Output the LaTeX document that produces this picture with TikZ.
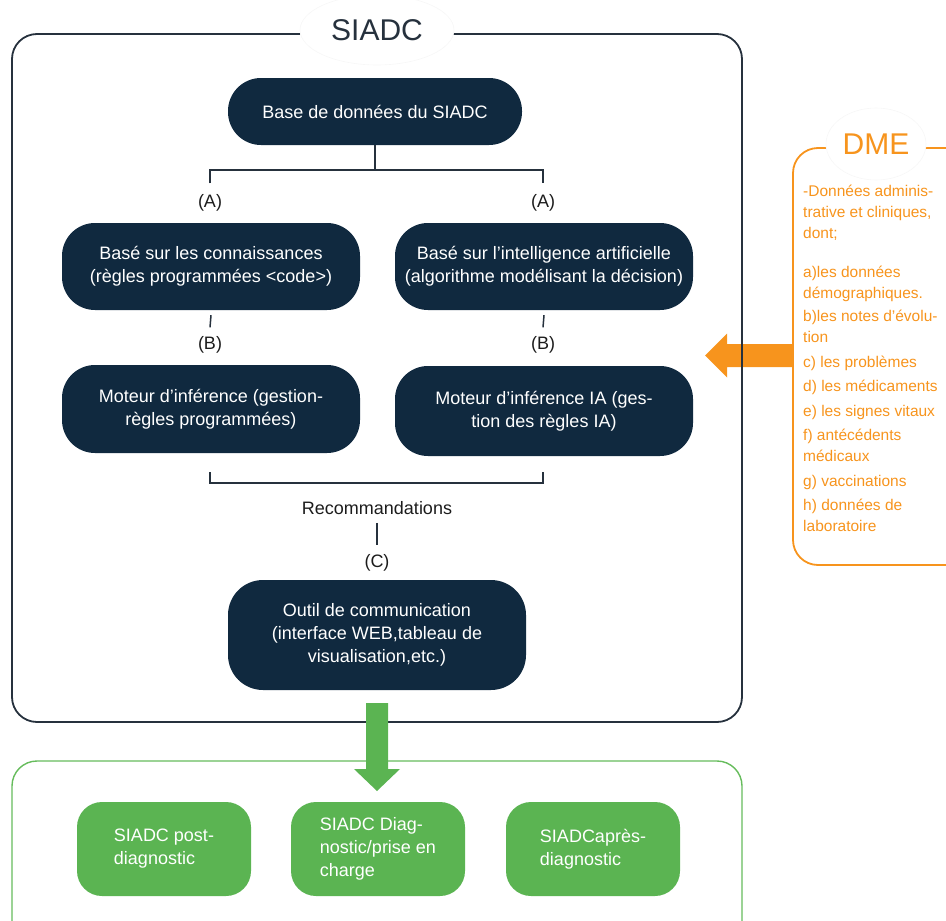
\documentclass[tikz,border=0pt]{standalone}
\usepackage{fontspec}
\setmainfont{Liberation Sans}
\usetikzlibrary{calc,shapes.geometric}

\definecolor{navy}{HTML}{10293F}
\definecolor{frame}{HTML}{26313D}
\definecolor{ink}{HTML}{1C1C1C}
\definecolor{leaf}{HTML}{5BB452}
\definecolor{leafline}{HTML}{66BC5C}
\definecolor{amber}{HTML}{F7941D}

\tikzset{
  darkbox/.style={fill=navy, draw=none, text=white, align=center,
    rounded corners=33pt, inner sep=0pt,
    font=\fontsize{18}{23}\selectfont},
  greenbox/.style={fill=leaf, draw=none, text=white, align=left,
    rounded corners=25pt, inner sep=0pt,
    minimum width=174pt, minimum height=94pt,
    font=\fontsize{18}{23}\selectfont},
  tag/.style={text=ink, font=\fontsize{18}{22}\selectfont},
  wire/.style={draw=frame, line width=1.5pt},
  halo/.style={ellipse, fill=white, draw=black!3, line width=0.6pt, inner sep=0pt},
}

\begin{document}
\begin{tikzpicture}[x=1pt,y=-1pt]
\useasboundingbox (0,0) rectangle (946,921);

% ---- orange input arrow (DME -> SIADC) ----
\coordinate (dmeout) at (792,355.5);
\coordinate (siadcin) at (705,355.5);
\fill[amber] (siadcin) -- ($(siadcin)+(22,-22)$) -- ($(siadcin)+(22,-11.5)$)
  -- ($(dmeout)+(0,-11.5)$) -- ($(dmeout)+(0,11.5)$)
  -- ($(siadcin)+(22,11.5)$) -- ($(siadcin)+(22,22)$) -- cycle;

% ---- SIADC frame ----
\draw[frame, line width=1.8pt, rounded corners=25pt]
  (300,34) -- (12,34) -- (12,722) -- (742,722) -- (742,34) -- (452,34);
\node[halo, minimum width=154pt, minimum height=70pt] (siadchalo) at (377,30) {};
\node[text=frame, font=\fontsize{30}{30}\selectfont] (siadc) at (377,30) {SIADC};

% ---- inner nodes ----
\node[darkbox, minimum width=294pt, minimum height=67pt] (db) at (375,111.5)
  {Base de données du SIADC};

\node[darkbox, minimum width=298pt, minimum height=87pt] (kb) at (211,266.5)
  {Basé sur les connaissances\\(règles programmées <code>)};
\node[darkbox, minimum width=298pt, minimum height=87pt] (ai) at (544,266.5)
  {Basé sur l’intelligence artificielle\\(algorithme modélisant la décision)};

\node[darkbox, minimum width=298pt, minimum height=88pt] (ie1) at (211,409)
  {Moteur d’inférence (gestion-\\règles programmées)};
\node[darkbox, minimum width=298pt, minimum height=90pt] (ie2) at (544,411)
  {Moteur d’inférence IA (ges-\\tion des règles IA)};

\node[darkbox, rounded corners=35pt, minimum width=298pt, minimum height=110pt] (comm) at (377,635)
  {Outil de communication\\(interface WEB,tableau de\\visualisation,etc.)};

% ---- labels ----
\node[tag, inner sep=0pt] (la1) at (210,203) {(A)};
\node[tag, inner sep=0pt] (la2) at (543,203) {(A)};
\node[tag, inner sep=0pt] (lb1) at (210,345) {(B)};
\node[tag, inner sep=0pt] (lb2) at (543,345) {(B)};
\node[tag, inner sep=0pt] (rec) at (377,508) {Recommandations};
\node[tag, inner sep=0pt] (lc) at (377,563) {(C)};

% ---- connectors ----
\coordinate (split) at (375,170);
\draw[wire] (db.south) -- (split);
\draw[wire] ($(la1.north)+(0,-11)$) |- (split) -| ($(la2.north)+(0,-11)$);

\draw[wire] ($(kb.south)+(0,5)$) -- ($(lb1.north)+(0,-9)$);
\draw[wire] ($(ai.south)+(0,5)$) -- ($(lb2.north)+(0,-9)$);

\coordinate (mergeL) at (210,472);
\coordinate (mergeR) at (543,472);
\coordinate (merge) at (377,483);
\draw[wire] (mergeL) |- (merge) -| (mergeR);

\draw[wire] ($(rec.south)+(0,8)$) -- ($(lc.north)+(0,-9.5)$);

% ---- outcome frame ----
\draw[leafline, line width=1.4pt, rounded corners=25pt]
  (12,940) -- (12,761) -- (742,761) -- (742,940);

\node[greenbox] (post) at (164,849) {SIADC post-\\diagnostic};
\node[greenbox] (diag) at (378,849) {SIADC Diag-\\nostic/prise en\\charge};
\node[greenbox] (apres) at (593,849) {SIADCaprès-\\diagnostic};

% ---- green output arrow (SIADC -> outcomes) ----
\coordinate (gtop) at (377,703);
\coordinate (gtip) at (377,791);
\fill[leaf] (gtip) -- ($(gtip)+(-23,-22)$) -- ($(gtip)+(-11,-22)$)
  -- ($(gtop)+(-11,0)$) -- ($(gtop)+(11,0)$)
  -- ($(gtip)+(11,-22)$) -- ($(gtip)+(23,-22)$) -- cycle;

% ---- DME panel ----
\draw[amber, line width=1.8pt, rounded corners=25pt]
  (826,148) -- (793,148) -- (793,565) -- (970,565);
\draw[amber, line width=1.8pt] (925,148) -- (960,148);
\node[halo, minimum width=100pt, minimum height=72pt] (dmehalo) at (876,144) {};
\node[text=amber, font=\fontsize{30}{30}\selectfont] (dme) at (876,144) {DME};

\node[anchor=north west, inner sep=0pt, align=left, text=amber,
      font=\fontsize{15.5}{21}\selectfont] (dmetext) at (803,185)
  {-Données adminis-\\trative et cliniques,\\dont;\\[18pt]
   a)les données\\démographiques.\\[2pt]
   b)les notes d'évolu-\\tion\\[3.5pt]
   c) les problèmes\\[3.5pt]
   d) les médicaments\\[3.5pt]
   e) les signes vitaux\\[3.5pt]
   f) antécédents\\médicaux\\[3.5pt]
   g) vaccinations\\[3.5pt]
   h) données de\\laboratoire};

\end{tikzpicture}
\end{document}
